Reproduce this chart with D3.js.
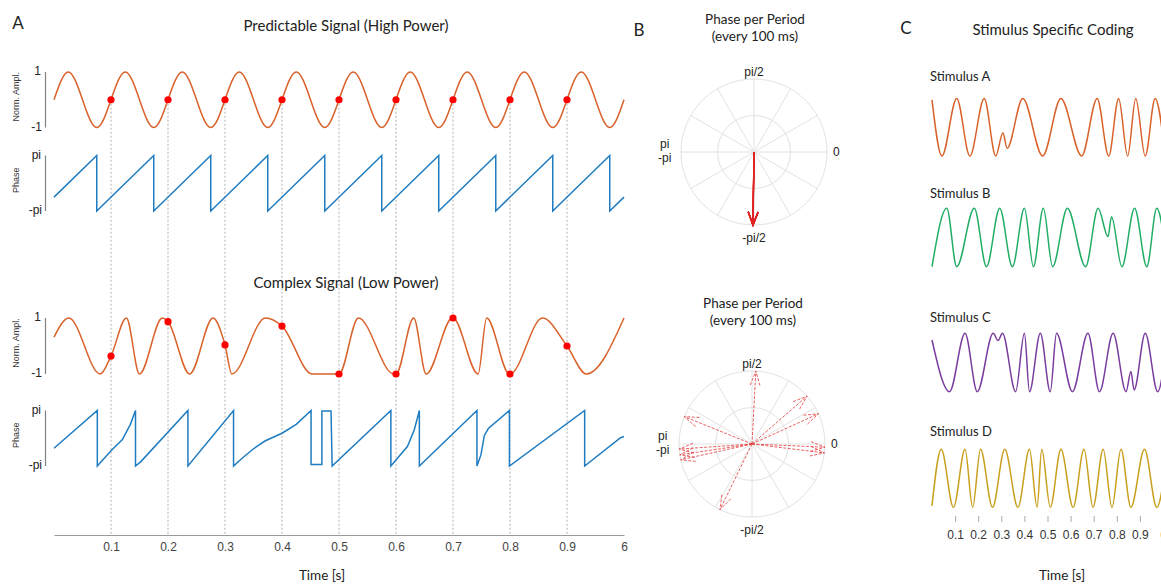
<!DOCTYPE html>
<html>
<head>
<meta charset="utf-8">
<script src="https://cdn.jsdelivr.net/npm/d3@7"></script>
<style>
body { margin: 0; background: #fff; }
svg { display: block; }
text { font-family: "Liberation Sans", Arial, sans-serif; fill: #222; }
.cal { font-family: Lato, "Open Sans", sans-serif; }
</style>
</head>
<body>
<svg id="fig" width="1161" height="586"></svg>
<script>
// times in s, amplitudes normalised to [-1,1], phases in units of pi, arrow angles in degrees

var tickTimes = [0.1, 0.2, 0.3, 0.4, 0.5, 0.6, 0.7, 0.8, 0.9, 1.0];
var tickLabels = ['0.1', '0.2', '0.3', '0.4', '0.5', '0.6', '0.7', '0.8', '0.9', '6'];
var dotTimes = [0.1, 0.2, 0.3, 0.4, 0.5, 0.6, 0.7, 0.8, 0.9];

// predictable signal: extrema of the wave
var predAmpT = [0, 0.025, 0.075, 0.125, 0.175, 0.225, 0.275, 0.325, 0.375, 0.425, 0.475,
  0.525, 0.575, 0.625, 0.675, 0.725, 0.775, 0.825, 0.875, 0.925, 0.975, 1];
var predAmpV = [0, 1, -1, 1, -1, 1, -1, 1, -1, 1, -1, 1, -1, 1, -1, 1, -1, 1, -1, 1, -1, 0];
var predDotV = [0, 0, 0, 0, 0, 0, 0, 0, 0];
var predPhase = [[0, -0.5], [0.075, 1], [0.075, -1], [0.175, 1], [0.175, -1], [0.275, 1], [0.275, -1],
  [0.375, 1], [0.375, -1], [0.475, 1], [0.475, -1], [0.575, 1], [0.575, -1], [0.675, 1], [0.675, -1],
  [0.775, 1], [0.775, -1], [0.875, 1], [0.875, -1], [0.975, 1], [0.975, -1], [1, -0.5]];
var predArrowDeg = [-90.8, -90.9, -90.7, -90.8, -91, -90.8, -90.6, -90.9, -90.8];

// complex signal
var complexAmpT = [0, 0.026, 0.081, 0.127, 0.150, 0.190, 0.238, 0.279, 0.312, 0.371, 0.453,
  0.534, 0.596, 0.631, 0.653, 0.699, 0.744, 0.759, 0.799, 0.857, 0.934, 1.0];
var complexAmpV = [0.32, 1, -1, 1, -1, 1, -1, 1, -1, 1, -1, 1, -1, 1, -1, 1, -1, 1, -1, 1, -1, 1];
var complexDotV = [-0.36, 0.87, 0.04, 0.71, -1, -1, 1, -1, 0];
var complexPhase = [[0, -0.36], [0.076, 1], [0.076, -1], [0.1, -0.45], [0.12, -0.05], [0.134, 0.5],
  [0.143, 1], [0.143, -1], [0.152, -0.85], [0.235, 1], [0.235, -1], [0.315, 1], [0.315, -1],
  [0.33, -0.72], [0.35, -0.38], [0.37, -0.1], [0.40, 0.18], [0.425, 0.5], [0.451, 1],
  [0.451, -0.95], [0.47, -0.95], [0.47, 0.98], [0.486, 0.98], [0.488, -1], [0.591, 1], [0.591, -1],
  [0.62, -0.3], [0.632, 0.3], [0.641, 1], [0.641, -1], [0.742, 1], [0.742, -1], [0.749, -0.6],
  [0.755, 0.1], [0.762, 0.35], [0.799, 1], [0.799, -1], [0.931, 1], [0.931, -1], [0.994, 0.02], [1, 0.06]];
var complexArrowDeg = [87, 41, 24.5, -2.5, -7, 158, 184, 188.5, 192.5, 244];

// stimulus specific coding
var stimNames = ['Stimulus A', 'Stimulus B', 'Stimulus C', 'Stimulus D'];
var stimColors = ['#d9622b', '#22ad66', '#7a3c9e', '#c9a01e'];
var stimA = [[0, 0.95], [0.043, -1], [0.107, 1], [0.164, -1], [0.226, 1], [0.276, -1], [0.307, -0.19],
  [0.325, -0.73], [0.393, 1], [0.479, -1], [0.558, 1], [0.648, -1], [0.715, 1], [0.765, -1],
  [0.808, 1], [0.847, -1], [0.882, 1], [0.923, -1], [0.966, 1], [1.01, -1]];
var stimB = [[0, -1], [0.064, 1], [0.107, -1], [0.183, 1], [0.236, -1], [0.293, 1], [0.348, -1],
  [0.4, 1], [0.439, -1], [0.482, 1], [0.522, -1], [0.586, 1], [0.665, -1], [0.719, 1], [0.762, 0.03],
  [0.777, 0.71], [0.822, -1], [0.877, 1], [0.93, -1], [0.973, 1], [1.02, -1]];
var stimC = [[0, 0.77], [0.076, -1], [0.143, 1], [0.196, -1], [0.265, 1], [0.286, 0.75], [0.305, 1],
  [0.362, -1], [0.4, 1], [0.422, -1], [0.469, 1], [0.512, -1], [0.539, 1], [0.608, -1], [0.675, 1],
  [0.725, -1], [0.784, 1], [0.84, -1], [0.861, -0.31], [0.875, -0.94], [0.923, 1], [0.977, -1], [1.02, 1]];
var stimD = [[0, -0.95], [0.04, 1], [0.093, -1], [0.143, 1], [0.176, -1], [0.21, 1], [0.262, -1],
  [0.315, 1], [0.372, -1], [0.422, 1], [0.455, -1], [0.475, 1], [0.512, -1], [0.558, 1], [0.611, -1],
  [0.658, 1], [0.697, -1], [0.741, 1], [0.779, -1], [0.818, 1], [0.861, -1], [0.92, 1], [0.973, -1], [1.02, 1]];

var ORANGE = '#d9622b', BLUE = '#1f7cc0', RED = '#ff0000';

var svg = d3.select('#fig');

function zip(ts, vs) { return ts.map(function(t, i) { return [t, vs[i]]; }); }
function withDots(pts, ts, vs) {
  var all = pts.concat(zip(ts, vs)).sort(function(a, b) { return a[0] - b[0]; });
  return all.filter(function(d, i) { return i == 0 || d[0] != all[i - 1][0]; });
}
function waveLine(x, y) {
  return d3.line().x(function(d) { return x(d[0]); }).y(function(d) { return y(d[1]); }).curve(d3.curveMonotoneX);
}
function phaseLine(x, y) {
  return d3.line().x(function(d) { return x(d[0]); }).y(function(d) { return y(d[1]); });
}

// ---------- panel A ----------
var xA = d3.scaleLinear().domain([0, 1]).range([54, 624]);
var rows = [
  { title: 'Predictable Signal (High Power)', titleY: 27,
    amp: d3.scaleLinear().domain([-1, 1]).range([127.5, 72]),
    ph: d3.scaleLinear().domain([-1, 1]).range([211, 155.5]),
    wave: zip(predAmpT, predAmpV), dots: zip(dotTimes, predDotV), phase: predPhase },
  { title: 'Complex Signal (Low Power)', titleY: 284,
    amp: d3.scaleLinear().domain([-1, 1]).range([374, 318]),
    ph: d3.scaleLinear().domain([-1, 1]).range([466, 410.5]),
    wave: withDots(zip(complexAmpT, complexAmpV), dotTimes, complexDotV),
    dots: zip(dotTimes, complexDotV), phase: complexPhase }
];

// dashed guides at every 100 ms
svg.append('g').selectAll('line').data(dotTimes).enter().append('line')
  .attr('x1', function(d) { return xA(d); }).attr('x2', function(d) { return xA(d); })
  .attr('y1', rows[0].amp(0)).attr('y2', 535)
  .attr('stroke', '#9a9a9a').attr('stroke-width', 0.8).attr('stroke-dasharray', '2,2');

rows.forEach(function(r) {
  var g = svg.append('g');
  g.append('text').attr('class', 'cal').attr('x', 346).attr('y', r.titleY)
    .attr('text-anchor', 'middle').attr('dominant-baseline', 'middle')
    .style('font-size', '15px').text(r.title);

  // y scale bars
  [[r.amp, '1', '-1', 'Norm. Ampl.'], [r.ph, 'pi', '-pi', 'Phase']].forEach(function(a) {
    var s = a[0];
    g.append('line').attr('x1', 45.5).attr('x2', 45.5).attr('y1', s(1)).attr('y2', s(-1))
      .attr('stroke', '#808080').attr('stroke-width', 1.2);
    g.append('text').attr('x', 41).attr('y', s(1)).attr('text-anchor', 'end')
      .attr('dominant-baseline', 'middle').style('font-size', '12px').text(a[1]);
    g.append('text').attr('x', 42).attr('y', s(-1)).attr('text-anchor', 'end')
      .attr('dominant-baseline', 'middle').style('font-size', '12px').text(a[2]);
    var cy = (s(1) + s(-1)) / 2 - 3;
    g.append('text').attr('transform', 'translate(17,' + cy + ') rotate(-90)')
      .attr('text-anchor', 'middle').attr('dominant-baseline', 'middle')
      .style('font-size', '9px').style('fill', '#333').text(a[3]);
  });

  g.append('path').datum(r.wave).attr('d', waveLine(xA, r.amp))
    .attr('fill', 'none').attr('stroke', ORANGE).attr('stroke-width', 1.5);
  g.append('path').datum(r.phase).attr('d', phaseLine(xA, r.ph))
    .attr('fill', 'none').attr('stroke', BLUE).attr('stroke-width', 1.5);
  g.selectAll('circle').data(r.dots).enter().append('circle')
    .attr('cx', function(d) { return xA(d[0]); }).attr('cy', function(d) { return r.amp(d[1]); })
    .attr('r', 3.6).attr('fill', RED);
});

var axA = svg.append('g').attr('transform', 'translate(0,535)')
  .call(d3.axisBottom(xA).tickValues(tickTimes).tickSize(0).tickPadding(7)
    .tickFormat(function(d, i) { return tickLabels[i]; }));
axA.select('.domain').attr('stroke', '#9a9a9a');
axA.selectAll('text').style('font-size', '12px').style('font-family', '"Liberation Sans", Arial, sans-serif').style('fill', '#444');
svg.append('text').attr('class', 'cal').attr('x', 322).attr('y', 577).attr('text-anchor', 'middle')
  .attr('dominant-baseline', 'middle').style('font-size', '13.5px').text('Time [s]');

// ---------- panel B ----------
function polar(cx, cy, titleY, angles, solid) {
  var R = 73;
  var rS = d3.scaleLinear().domain([0, 1]).range([0, R]);
  var g = svg.append('g').attr('transform', 'translate(' + cx + ',' + cy + ')');
  ['Phase per Period', '(every 100 ms)'].forEach(function(t, i) {
    svg.append('text').attr('class', 'cal').attr('x', cx + 1).attr('y', titleY + i * 17)
      .attr('text-anchor', 'middle').attr('dominant-baseline', 'middle')
      .style('font-size', '13.5px').text(t);
  });
  g.selectAll('line.spoke').data(d3.range(0, 360, 30)).enter().append('line')
    .attr('x1', 0).attr('y1', 0)
    .attr('x2', function(d) { return d3.pointRadial(d * Math.PI / 180, rS(1))[0]; })
    .attr('y2', function(d) { return d3.pointRadial(d * Math.PI / 180, rS(1))[1]; })
    .attr('stroke', '#e2e2e2').attr('stroke-width', 1);
  g.selectAll('circle').data([0.5, 1]).enter().append('circle')
    .attr('r', function(d) { return rS(d); }).attr('fill', 'none')
    .attr('stroke', '#e2e2e2').attr('stroke-width', 1);

  var lab = [['pi/2', 0, -R - 6, 'middle'], ['-pi/2', 0, R + 14, 'middle'], ['0', R + 6, 1, 'start'],
             ['pi', -R - 21, -7, 'start'], ['-pi', -R - 23, 7, 'start']];
  lab.forEach(function(l) {
    g.append('text').attr('x', l[1]).attr('y', l[2]).attr('text-anchor', l[3])
      .attr('dominant-baseline', 'middle').style('font-size', '12px').text(l[0]);
  });

  var head = solid ? 14 : 15, spread = solid ? 0.36 : 0.33;
  var arr = g.append('g').attr('fill', 'none')
    .attr('stroke', solid ? '#e02424' : '#e53a3a')
    .attr('stroke-width', solid ? 1.2 : 0.8)
    .attr('stroke-dasharray', solid ? null : '3,1.5');
  angles.forEach(function(deg) {
    var a = Math.PI / 2 - deg * Math.PI / 180;
    var tip = d3.pointRadial(a, rS(1));
    var b = a + Math.PI;
    var h1 = d3.pointRadial(b + spread, head), h2 = d3.pointRadial(b - spread, head);
    arr.append('path').attr('d', 'M0,0L' + tip[0] + ',' + tip[1] +
      'M' + (tip[0] + h1[0]) + ',' + (tip[1] + h1[1]) + 'L' + tip[0] + ',' + tip[1] +
      'L' + (tip[0] + h2[0]) + ',' + (tip[1] + h2[1]));
  });
}
polar(754, 152, 21, predArrowDeg, true);
polar(752, 444, 305, complexArrowDeg, false);

// ---------- panel C ----------
var xC = d3.scaleLinear().domain([0, 1]).range([932, 1163]);
var stimY = [[156, 98.5], [266.7, 208.3], [391.7, 333.3], [507.3, 449.3]];
var stimLabelY = [78, 195, 319, 433];
var stims = [stimA, stimB, stimC, stimD];
svg.append('text').attr('class', 'cal').attr('x', 1053).attr('y', 31).attr('text-anchor', 'middle')
  .attr('dominant-baseline', 'middle').style('font-size', '15px').text('Stimulus Specific Coding');
stims.forEach(function(s, i) {
  var y = d3.scaleLinear().domain([-1, 1]).range(stimY[i]);
  svg.append('text').attr('class', 'cal').attr('x', 930).attr('y', stimLabelY[i])
    .attr('dominant-baseline', 'middle').style('font-size', '13px').text(stimNames[i]);
  svg.append('path').datum(s).attr('d', waveLine(xC, y))
    .attr('fill', 'none').attr('stroke', stimColors[i]).attr('stroke-width', 1.5);
});
var axC = svg.append('g').attr('transform', 'translate(0,516)')
  .call(d3.axisBottom(xC).tickValues(tickTimes).tickSize(6).tickPadding(8)
    .tickFormat(function(d, i) { return tickLabels[i]; }));
axC.select('.domain').remove();
axC.selectAll('line').attr('stroke', '#aaa');
axC.selectAll('text').style('font-size', '12px').style('font-family', '"Liberation Sans", Arial, sans-serif').style('fill', '#333');
svg.append('text').attr('class', 'cal').attr('x', 1062).attr('y', 577).attr('text-anchor', 'middle')
  .attr('dominant-baseline', 'middle').style('font-size', '13.5px').text('Time [s]');

// panel letters
[['A', 18, 25], ['B', 639, 32], ['C', 906, 30]].forEach(function(p) {
  svg.append('text').attr('class', 'cal').attr('x', p[1]).attr('y', p[2]).attr('text-anchor', 'middle')
    .attr('dominant-baseline', 'middle').style('font-size', '17px').text(p[0]);
});
</script>
</body>
</html>
